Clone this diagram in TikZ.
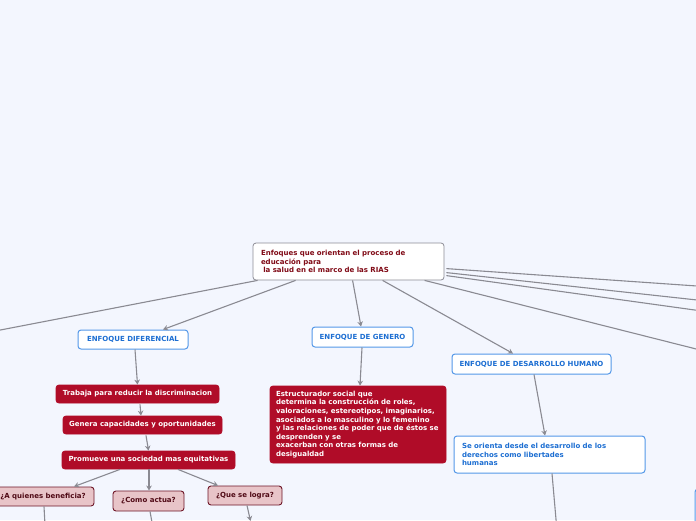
\documentclass[tikz,border=0pt]{standalone}
\usepackage{fontspec}
\setmainfont{DejaVu Sans}
\usetikzlibrary{calc,arrows.meta}
\definecolor{bg}{RGB}{243,246,254}
\definecolor{conn}{RGB}{138,138,146}
\definecolor{redfill}{RGB}{176,12,40}
\definecolor{bluetxt}{RGB}{28,110,210}
\definecolor{blueline}{RGB}{84,152,232}
\definecolor{pinkfill}{RGB}{232,196,200}
\definecolor{pinkline}{RGB}{110,22,40}
\definecolor{pinktxt}{RGB}{80,10,22}
\definecolor{roottxt}{RGB}{128,10,22}
\definecolor{rootline}{RGB}{140,140,150}
\tikzset{
  base/.style={rounded corners=3pt, inner sep=0pt, font=\fontsize{7}{8.6}\selectfont\bfseries},
  rootbox/.style={base, draw=rootline, line width=0.8pt, fill=white, text=roottxt},
  bluebox/.style={base, draw=blueline, line width=1pt, fill=white, text=bluetxt},
  redbox/.style={base, draw=redfill, line width=0.8pt, fill=redfill, text=white},
  pinkbox/.style={base, draw=pinkline, line width=0.9pt, fill=pinkfill, text=pinktxt},
  link/.style={draw=conn, line width=1.1pt},
  arr/.style={link, -{Stealth[length=5pt,width=5.5pt]}}
}
\begin{document}
\begin{tikzpicture}[x=1pt,y=-1pt]
\fill[bg] (0,0) rectangle (696,520);
\useasboundingbox (0,0) rectangle (696,520);
\clip (0,0) rectangle (696,520);

% nodes
\node[rootbox, minimum width=191pt, minimum height=37pt, text width=175pt, align=left] (root) at (348.5,261.5)
  {Enfoques que orientan el proceso de\\educación para\\\ la salud en el marco de las RIAS};

\node[bluebox, minimum width=110pt, minimum height=19pt] (dif) at (133,339.5) {ENFOQUE DIFERENCIAL};
\node[redbox, minimum width=163pt, minimum height=18pt] (trab) at (137.5,394) {Trabaja para reducir la discriminacion};
\node[redbox, minimum width=159pt, minimum height=18pt] (gen) at (142.5,425) {Genera capacidades y oportunidades};
\node[redbox, minimum width=173pt, minimum height=18pt] (prom) at (148.5,460) {Promueve una sociedad mas equitativas};
\node[pinkbox, minimum width=102pt, minimum height=19pt] (quien) at (43,496.5) {¿A quienes beneficia?};
\node[pinkbox, minimum width=71pt, minimum height=20pt] (como) at (148.5,501) {¿Como actua?};
\node[pinkbox, minimum width=74pt, minimum height=19pt] (logra) at (245,495.5) {¿Que se logra?};

\node[bluebox, minimum width=101pt, minimum height=20pt] (genero) at (362.5,337) {ENFOQUE DE GENERO};
\node[redbox, minimum width=176pt, minimum height=77pt, text width=164pt, align=left] (estr) at (358,424.5)
  {Estructurador social que\\determina la construcción de roles,\\valoraciones, estereotipos, imaginarios,\\asociados a lo masculino y lo femenino\\y las relaciones de poder que de éstos se\\desprenden y se\\exacerban con otras formas de\\desigualdad};

\node[bluebox, minimum width=159pt, minimum height=20pt] (dh) at (531.5,364) {ENFOQUE DE DESARROLLO HUMANO};
\node[bluebox, minimum width=191pt, minimum height=37pt, text width=175pt, align=left] (orienta) at (549.5,454.5)
  {Se orienta desde el desarrollo de los\\derechos como libertades\\humanas};

\node[bluebox, minimum width=70pt, minimum height=62pt] (rbox) at (730,520) {};

% free ends
\coordinate (eL) at (-10,332);
\coordinate (eR1) at (720,287.6);
\coordinate (eR2) at (720,302.5);
\coordinate (eR3) at (720,313.5);
\coordinate (eR4) at (720,355);
\coordinate (eQ) at (45,525);
\coordinate (eC) at (152.5,525);
\coordinate (eG) at (250.5,521);
\coordinate (eO) at (556.5,525);

% connectors from root
\draw[link] ($(root.south west)+(5,0)$) -- (eL);
\draw[arr] ($(root.south west)+(43,0)$) -- ($(dif.north)+(30,0)$);
\draw[arr] ($(root.south west)+(100,0)$) -- ($(genero.north)+(-1.5,0)$);
\draw[arr] ($(root.south west)+(130,0)$) -- ($(dh.north)+(-18.5,0)$);
\draw[link] ($(root.south west)+(172,0)$) -- (eR4);
\draw[link] ($(root.north east)+(2,26)$) -- (eR1);
\draw[link] ($(root.north east)+(2,30)$) -- (eR2);
\draw[link] ($(root.north east)+(2,33)$) -- (eR3);

% diferencial chain
\draw[arr] ($(dif.south)+(2,0)$) -- (trab.north);
\draw[arr] ($(trab.south)+(2.5,1)$) -- ($(gen.north)+(-1.5,0)$);
\draw[arr] ($(gen.south)+(3.5,1)$) -- (prom.north);
\draw[arr] ($(prom.south)+(-28.5,0)$) -- ($(quien.north)+(31,0)$);
\draw[arr] ($(prom.south)+(0.5,0)$) -- ($(como.north)+(0.5,0)$);
\draw[arr] ($(prom.south)+(29.5,0)$) -- ($(logra.north)+(-27,0)$);
\draw[link] ($(quien.south)+(1,0)$) -- (eQ);
\draw[link] ($(como.south)+(1.5,0)$) -- (eC);
\draw[arr] ($(logra.south)+(2,0)$) -- (eG);

% genero
\draw[arr] ($(genero.south)+(-0.5,0)$) -- ($(estr.north)+(2,0)$);

% desarrollo humano
\draw[arr] ($(dh.south)+(2.5,0)$) -- ($(orienta.north)+(-4.5,0)$);
\draw[link] ($(orienta.south)+(2.5,0)$) -- (eO);
\end{tikzpicture}
\end{document}
